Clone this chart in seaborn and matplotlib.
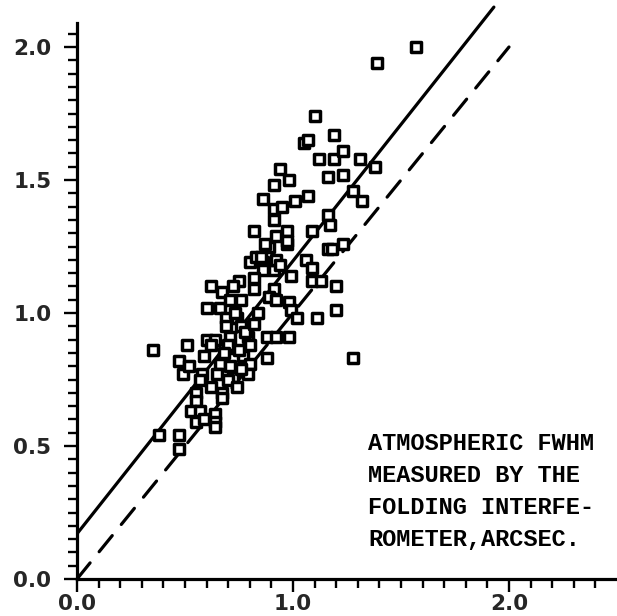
import matplotlib
matplotlib.use("Agg")
import matplotlib.pyplot as plt
import seaborn as sns
import pandas as pd
import numpy as np

# ---- data ----
fwhm_x = [1.57, 1.39, 1.10, 1.05, 1.07, 1.19, 1.12, 1.19, 1.23, 1.31,
          1.38, 1.16, 1.23, 0.94, 0.98, 0.91, 0.86, 0.91, 0.95, 1.01,
          1.07, 0.91, 0.82, 0.97, 1.28, 1.32, 1.16, 1.17, 1.09, 1.23,
          1.16, 1.18, 0.89, 0.97, 1.06, 1.09, 0.99, 1.09, 1.13, 1.20,
          1.20, 1.11, 0.91, 0.98, 0.99, 1.02, 0.88, 0.92, 0.98, 0.88,
          1.28, 0.86, 0.91, 0.87, 0.92, 0.35, 0.51, 0.47, 0.49, 0.60,
          0.62, 0.67, 0.75, 0.72, 0.66, 0.69, 0.74, 0.71, 0.76, 0.80,
          0.83, 0.86, 0.92, 0.82, 0.82, 0.69, 0.76, 0.60, 0.64, 0.71,
          0.79, 0.59, 0.71, 0.77, 0.66, 0.74, 0.80, 0.58, 0.65, 0.72,
          0.79, 0.38, 0.47, 0.47, 0.52, 0.57, 0.55, 0.55, 0.53, 0.57,
          0.55, 0.59, 0.64, 0.64, 0.64, 0.62, 0.67, 0.67, 0.70, 0.74,
          0.71, 0.76, 0.85, 0.94, 0.89, 0.92, 0.97, 0.70, 0.75, 0.78,
          0.73, 0.68, 0.80, 0.82, 0.84, 0.62]
fwhm_y = [2.00, 1.94, 1.74, 1.64, 1.65, 1.67, 1.58, 1.58, 1.61, 1.58,
          1.55, 1.51, 1.52, 1.54, 1.50, 1.48, 1.43, 1.39, 1.40, 1.42,
          1.44, 1.35, 1.31, 1.31, 1.46, 1.42, 1.37, 1.33, 1.31, 1.26,
          1.24, 1.24, 1.25, 1.26, 1.20, 1.17, 1.14, 1.12, 1.12, 1.10,
          1.01, 0.98, 1.09, 1.04, 1.01, 0.98, 0.91, 0.91, 0.91, 0.83,
          0.83, 1.19, 1.16, 1.26, 1.29, 0.86, 0.88, 0.82, 0.77, 1.02,
          1.10, 1.08, 1.12, 1.10, 1.02, 0.98, 0.98, 1.05, 1.05, 1.19,
          1.21, 1.16, 1.20, 1.13, 1.09, 0.95, 0.95, 0.90, 0.90, 0.91,
          0.91, 0.84, 0.87, 0.84, 0.81, 0.79, 0.81, 0.77, 0.77, 0.76,
          0.77, 0.54, 0.54, 0.49, 0.80, 0.75, 0.70, 0.67, 0.63, 0.63,
          0.59, 0.60, 0.62, 0.59, 0.57, 0.72, 0.70, 0.68, 0.75, 0.72,
          0.80, 0.79, 1.21, 1.18, 1.06, 1.05, 1.27, 0.88, 0.86, 0.93,
          1.00, 0.85, 0.88, 0.96, 1.00, 0.88]

fit_x = [0.0, 1.93]
fit_y = [0.17, 2.15]
equal_x = [0.0, 2.0]
equal_y = [0.0, 2.0]

x_tick_values = [0.0, 1.0, 2.0]
x_tick_labels = ["0.0", "1.0", "2.0"]
y_tick_values = [0.0, 0.5, 1.0, 1.5, 2.0]
y_tick_labels = ["0.0", "0.5", "1.0", "1.5", "2.0"]

caption_lines = ["ATMOSPHERIC FWHM",
                 "MEASURED BY THE",
                 "FOLDING INTERFE-",
                 "ROMETER,ARCSEC."]

# ---- drawing ----
sns.set_style("ticks")
plt.rcParams["font.family"] = ["DejaVu Sans"]

df = pd.DataFrame({"x": fwhm_x, "y": fwhm_y})
fit_df = pd.DataFrame({"x": fit_x, "y": fit_y})
eq_df = pd.DataFrame({"x": equal_x, "y": equal_y})

fig = plt.figure(figsize=(6.17, 6.16), dpi=100)
ax = fig.add_axes([77 / 617, 37 / 616, 540 / 617, 579 / 616])

sns.lineplot(data=fit_df, x="x", y="y", ax=ax, color="black", lw=2.3,
             sort=False, estimator=None)
sns.lineplot(data=eq_df, x="x", y="y", ax=ax, color="black", lw=2.3,
             sort=False, estimator=None, dashes=False)
ax.lines[-1].set_dashes((6.5, 4.5))
ax.lines[-1].set_dash_capstyle("round")

sns.scatterplot(data=df, x="x", y="y", ax=ax, marker="s", s=46,
                facecolor="white", edgecolor="black", linewidth=2.5,
                zorder=3)

ax.set_xlim(0, 2.5)
ax.set_ylim(0, 579 / 266)
ax.set_xlabel("")
ax.set_ylabel("")

ax.set_xticks(x_tick_values)
ax.set_xticklabels(x_tick_labels)
ax.set_yticks(y_tick_values)
ax.set_yticklabels(y_tick_labels)
ax.set_xticks(np.arange(0, 2.45, 0.1), minor=True)
ax.set_yticks(np.arange(0, 2.07, 0.05), minor=True)

for lab in ax.get_xticklabels() + ax.get_yticklabels():
    lab.set_fontweight("bold")
    lab.set_fontsize(15.5)

ax.tick_params(axis="both", which="major", direction="out", length=9.5,
               width=1.7, color="black")
ax.tick_params(axis="both", which="minor", direction="out", length=6.5,
               width=1.7, color="black")
ax.tick_params(axis="y", which="major", pad=9)
ax.tick_params(axis="x", which="major", pad=1)

for side in ["top", "right"]:
    ax.spines[side].set_visible(False)
for side in ["left", "bottom"]:
    ax.spines[side].set_linewidth(2.3)
    ax.spines[side].set_color("black")
ax.spines["left"].set_bounds(0, 2.09)

cap_x = 1.347
cap_y0 = 0.511
cap_step = 0.121
for i, line in enumerate(caption_lines):
    ax.text(cap_x, cap_y0 - i * cap_step, line, family="Liberation Mono",
            fontweight="bold", fontsize=17, va="center", ha="left",
            color="black")

fig.savefig("out.png", dpi=100, facecolor="white")
